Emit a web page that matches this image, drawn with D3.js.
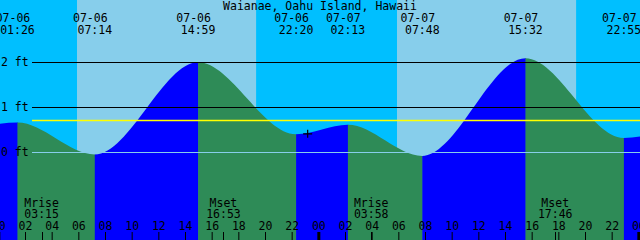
<html>
<head>
<meta charset="utf-8">
<script src="https://d3js.org/d3.v7.min.js"></script>
<style>
body {
	margin: 0;
	overflow: hidden;
}
text {
	font-family: "DejaVu Sans Mono", "Liberation Mono", monospace;
	font-size: 11.5px;
	fill: #000;
}
</style>
</head>
<body>
<div id="chart"></div>
<script>
	var title = "Waianae, Oahu Island, Hawaii";

	// tide extremes (day 0 = 07-06); first and last lie outside the window
	var tideDay = [-1, 0, 0, 0, 0, 1, 1, 1, 1, 2];
	var tideDates = ["07-05", "07-06", "07-06", "07-06", "07-06", "07-07", "07-07", "07-07", "07-07", "07-08"];
	var tideTimes = ["21:45", "01:26", "07:14", "14:59", "22:20", "02:13", "07:48", "15:32", "22:55", "03:00"];
	var tideHeights = [0.50, 0.66, -0.05, 2.00, 0.40, 0.61, -0.08, 2.09, 0.32, 0.58];

	var sunDay = [0, 1];
	var sunrise = ["05:54", "05:54"];
	var sunset = ["19:20", "19:20"];

	var moonDay = [0, 0, 1, 1];
	var moonLabels = ["Mrise", "Mset", "Mrise", "Mset"];
	var moonTimes = ["03:15", "16:53", "03:58", "17:46"];

	var heightTicks = [0, 1, 2];
	var meanLevel = 0.71;

	var markDay = 0, markTime = "23:12", markHeight = 0.41;

	var width = 640, height = 240;

	function hours(day, t) {
		var p = t.split(":");
		return day * 24 + (+p[0]) + (+p[1]) / 60;
	}

	var x = d3.scaleLinear().domain([0.125, 48.125]).range([0, width]);
	var y = d3.scaleLinear().domain([0, 2]).range([152.3, 62.3]);

	var tides = tideTimes.map(function(t, i) {
		return { h: hours(tideDay[i], t), ft: tideHeights[i], date: tideDates[i], time: t };
	});

	var svg = d3.select("#chart").append("svg")
		.attr("width", width)
		.attr("height", height)
		.style("display", "block");

	// night sky
	svg.append("rect")
		.attr("width", width)
		.attr("height", height)
		.attr("fill", "#00BFFF");

	// daylight
	svg.selectAll("rect.day")
		.data(sunDay)
		.enter().append("rect")
		.attr("class", "day")
		.attr("x", (d, i) => x(hours(d, sunrise[i])))
		.attr("width", (d, i) => x(hours(d, sunset[i])) - x(hours(d, sunrise[i])))
		.attr("y", 0)
		.attr("height", height)
		.attr("fill", "#87CEEB");

	// water
	var area = d3.area()
		.x(d => x(d.h))
		.y0(height)
		.y1(d => y(d.ft))
		.curve(d3.curveMonotoneX);

	svg.append("clipPath")
		.attr("id", "water")
		.append("path")
		.attr("d", area(tides));

	svg.append("g")
		.attr("clip-path", "url(#water)")
		.selectAll("rect")
		.data(d3.pairs(tides))
		.enter().append("rect")
		.attr("x", d => x(d[0].h))
		.attr("width", d => x(d[1].h) - x(d[0].h) + 0.5)
		.attr("y", 0)
		.attr("height", height)
		.attr("fill", d => d[1].ft < d[0].ft ? "#2E8B57" : "#0000FF");

	// height lines
	svg.selectAll("line.level")
		.data(heightTicks)
		.enter().append("line")
		.attr("class", "level")
		.attr("x1", 32)
		.attr("x2", width)
		.attr("y1", d => Math.round(y(d)) + 0.5)
		.attr("y2", d => Math.round(y(d)) + 0.5)
		.attr("stroke", d => d === 0 ? "#87CEEB" : "#000")
		.attr("stroke-width", 1.2);

	svg.append("line")
		.attr("x1", 32)
		.attr("x2", width)
		.attr("y1", Math.round(y(meanLevel)) + 0.5)
		.attr("y2", Math.round(y(meanLevel)) + 0.5)
		.attr("stroke", "#FFFF00")
		.attr("stroke-width", 1.4);

	svg.selectAll("text.level")
		.data(heightTicks)
		.enter().append("text")
		.attr("class", "level")
		.attr("x", 1)
		.attr("y", d => y(d) + 4)
		.text(d => d + " ft");

	// mark
	var mx = x(hours(markDay, markTime)), my = y(markHeight);
	svg.append("path")
		.attr("d", "M" + (mx - 4.5) + "," + my + "h9M" + mx + "," + (my - 4) + "v8")
		.attr("stroke", "#000")
		.attr("stroke-width", 1.2);

	// title and tide event labels
	svg.append("text")
		.attr("x", width / 2)
		.attr("y", 10)
		.attr("text-anchor", "middle")
		.text(title);

	var shown = tides.filter(d => x(d.h) > -20 && x(d.h) < width + 20);

	svg.selectAll("text.date")
		.data(shown)
		.enter().append("text")
		.attr("class", "date")
		.attr("x", d => x(d.h) - 4.5)
		.attr("y", 21.7)
		.attr("text-anchor", "middle")
		.text(d => d.date);

	svg.selectAll("text.time")
		.data(shown)
		.enter().append("text")
		.attr("class", "time")
		.attr("x", d => x(d.h))
		.attr("y", 34)
		.attr("text-anchor", "middle")
		.text(d => d.time);

	// moon
	var moon = moonTimes.map((t, i) => ({ h: hours(moonDay[i], t), label: moonLabels[i], time: t }));

	svg.selectAll("text.moon")
		.data(moon)
		.enter().append("text")
		.attr("class", "moon")
		.attr("x", d => x(d.h))
		.attr("y", 206.5)
		.attr("text-anchor", "middle")
		.text(d => d.label);

	svg.selectAll("text.moontime")
		.data(moon)
		.enter().append("text")
		.attr("class", "moontime")
		.attr("x", d => x(d.h))
		.attr("y", 218)
		.attr("text-anchor", "middle")
		.text(d => d.time);

	svg.selectAll("line.moon")
		.data(moon)
		.enter().append("line")
		.attr("class", "moon")
		.attr("x1", d => Math.round(x(d.h)) + 0.5)
		.attr("x2", d => Math.round(x(d.h)) + 0.5)
		.attr("y1", 232)
		.attr("y2", height)
		.attr("stroke", "#000");

	// hour axis
	var axis = svg.append("g")
		.attr("transform", "translate(0," + height + ")")
		.call(d3.axisTop(x)
			.tickValues(d3.range(0, 49, 2))
			.tickSize(8)
			.tickPadding(2)
			.tickFormat(d => String(d % 24).padStart(2, "0")));

	axis.select(".domain").remove();
	axis.selectAll("text")
		.attr("font-family", null)
		.attr("font-size", null)
		.style("fill", "#000");
	axis.selectAll(".tick line")
		.attr("stroke", "#000")
		.attr("stroke-width", d => d % 24 === 0 ? 3 : 1);
</script>
</body>
</html>
